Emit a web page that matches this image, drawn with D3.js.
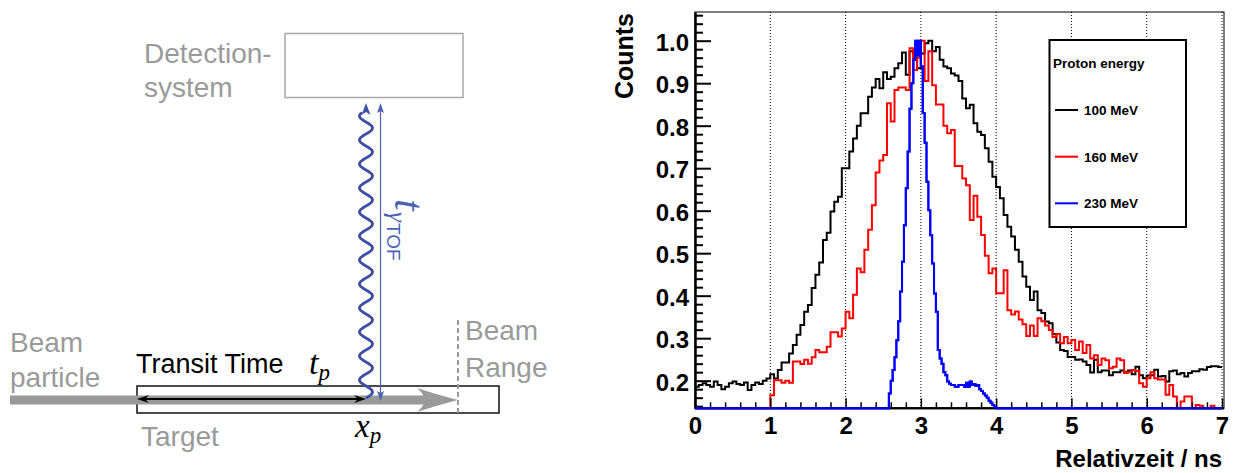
<!DOCTYPE html>
<html><head><meta charset="utf-8">
<script src="https://cdn.jsdelivr.net/npm/d3@7"></script>
<style>html,body{margin:0;padding:0;background:#fff}svg{display:block}</style>
</head><body>
<svg id="c" width="1236" height="473"></svg>
<script>
// ---------- data ----------
const timeTicks = [0, 1, 2, 3, 4, 5, 6, 7];
const countTicks = [0.2, 0.3, 0.4, 0.5, 0.6, 0.7, 0.8, 0.9, 1.0];
const energies = ["100 MeV", "160 MeV", "230 MeV"];
const seriesColors = ["#000000", "#ff0000", "#0000ff"];

const binWidth = 0.05;
const start100 = 0;
const counts100 = [
  0.186,0.19,0.194,0.19,0.186,0.198,0.19,0.18,0.186,0.194,0.198,0.192,0.19,0.196,0.178,0.19,0.196,0.192,0.2,0.205,
  0.215,0.205,0.225,0.243,0.243,0.264,0.284,
  0.308,0.331,0.362,0.378,0.418,0.449,0.478,0.531,0.548,0.598,0.621,0.633,0.70,0.70,
  0.739,0.77,0.80,0.829,0.829,0.868,0.89,0.91,0.888,0.926,0.91,0.915,0.935,0.947,0.972,0.92,0.975,0.96,0.935,0.97,0.994,
  1.0,0.975,0.985,0.955,0.939,0.935,0.923,0.918,0.905,0.864,0.841,0.849,0.806,0.786,0.778,0.747,0.715,0.68,0.656,0.629,
  0.59,0.562,0.539,0.508,0.48,0.445,0.421,0.39,0.41,0.366,0.359,0.339,0.335,0.31,0.29,
  0.272,0.27,0.256,0.256,0.249,0.25,0.245,0.237,0.219,0.249,0.22,0.224,0.224,0.213,0.22,0.22,0.224,0.22,0.224,0.215,
  0.233,0.213,0.206,0.212,0.213,0.226,0.21,0.211,0.198,0.222,0.224,0.215,0.218,0.21,0.218,0.222,0.222,0.227,0.226,0.232,
  0.234,0.234,0.232
];
const start160 = 1.0;
const counts160 = [
  0.166,0.201,0.201,0.195,0.20,0.195,0.245,0.245,0.239,0.249,0.24,0.255,0.272,0.267,0.267,0.28,0.314,0.314,0.304,0.323,
  0.362,0.347,0.402,0.464,0.455,0.508,0.555,0.613,0.69,0.718,0.731,
  0.853,0.81,0.884,0.89,0.89,0.884,0.982,0.931,0.96,1.0,0.905,0.975,0.895,0.85,0.85,0.80,0.782,0.79,0.705,0.705,
  0.676,0.66,0.578,0.635,0.586,0.543,0.494,0.453,0.464,0.406,0.406,0.46,0.366,0.356,0.363,0.344,0.333,0.305,0.33,0.305,
  0.347,0.34,0.33,0.319,0.303,0.31,
  0.288,0.303,0.288,0.296,0.272,0.292,0.265,0.284,0.252,0.26,0.237,0.252,0.248,0.229,0.233,0.252,0.248,0.218,0.221,0.225,
  0.223,0.194,0.186,0.206,0.22,0.206,0.203,0.203,0.167,0.19,0.163,0.12,0.151,0.163,0.163,0.12,0.143,0.141,0.12,0.12,
  0.141,0.12,0.12
];
const binWidth230 = 0.025;
const start230 = 2.575;
const counts230 = [
  0.17,0.20,0.225,0.255,0.295,0.34,0.41,0.48,0.566,0.653,0.739,0.84,0.90,0.955,1.0,0.965,1.0,0.94,0.83,0.76,
  0.668,0.601,0.542,0.476,0.405,0.362,0.272,0.252,0.24,0.22,0.213,0.198,0.193,0.19,0.19,0.186,0.186,0.19,0.19,0.19,
  0.186,0.195,0.185,0.198,0.19,0.192,0.188,0.19,0.18,0.176,0.17,0.165,0.16,0.153,0.148,0.143,0.138
];

// ---------- setup ----------
const svg = d3.select("#c");
svg.append("rect").attr("width", 1236).attr("height", 473).attr("fill", "#fff");
const SANS = "'Liberation Sans', Arial, Helvetica, sans-serif";
const SERIF = "'Liberation Serif', 'Times New Roman', serif";

// ================= LEFT DIAGRAM =================
const grey = "#9a9a9a";
const blueD = "#3d50a3";
const L = svg.append("g");

// detection system box + label
L.append("rect").attr("x", 285).attr("y", 33.5).attr("width", 178).attr("height", 64)
  .attr("fill", "none").attr("stroke", "#a8a8a8").attr("stroke-width", 1.5);
L.append("text").attr("x", 144).attr("y", 63).attr("font-family", SANS).attr("font-size", 28)
  .attr("fill", grey).text("Detection-");
L.append("text").attr("x", 144).attr("y", 97).attr("font-family", SANS).attr("font-size", 28)
  .attr("fill", grey).text("system");

// target rectangle
L.append("rect").attr("x", 137).attr("y", 386).attr("width", 362).attr("height", 27)
  .attr("fill", "none").attr("stroke", "#111").attr("stroke-width", 1.5);

// beam (grey thick arrow)
L.append("line").attr("x1", 10).attr("x2", 425).attr("y1", 400).attr("y2", 400)
  .attr("stroke", grey).attr("stroke-width", 9);
L.append("path").attr("d", "M458,400 Q435,394 417,388 Q424,394 425,400 Q424,406 417,412 Q435,406 458,400 Z")
  .attr("fill", grey);

// beam range dashed line
L.append("line").attr("x1", 458).attr("x2", 458).attr("y1", 320).attr("y2", 413)
  .attr("stroke", grey).attr("stroke-width", 2).attr("stroke-dasharray", "5,3");

// transit time double arrow
L.append("line").attr("x1", 142).attr("x2", 361).attr("y1", 399).attr("y2", 399)
  .attr("stroke", "#000").attr("stroke-width", 2);
L.append("path").attr("d", "M137,399 L149,395 L145,399 L149,403 Z").attr("fill", "#000");
L.append("path").attr("d", "M366,399 L354,395 L358,399 L354,403 Z").attr("fill", "#000");

// wavy photon line
const waveY = d3.range(398, 112, -0.5);
const wave = d3.line().x(d => 366 + 6.5 * Math.sin((398 - d) / 24 * 2 * Math.PI)).y(d => d);
L.append("path").attr("d", wave(waveY)).attr("fill", "none").attr("stroke", blueD).attr("stroke-width", 2.8);
L.append("path").attr("d", "M366,103 L361.5,115 L366,112 L370.5,115 Z").attr("fill", blueD);

// thin time-of-flight arrow
L.append("line").attr("x1", 380.5).attr("x2", 380.5).attr("y1", 108).attr("y2", 396)
  .attr("stroke", "#4a62b4").attr("stroke-width", 1.2);
L.append("path").attr("d", "M380.5,103 L377,113 L380.5,111 L384,113 Z").attr("fill", "#4a62b4");
L.append("path").attr("d", "M380.5,401 L377,391 L380.5,393 L384,391 Z").attr("fill", "#4a62b4");

// t_gamma TOF label (rotated)
const tl = L.append("text").attr("transform", "translate(395,199) rotate(90)")
  .attr("fill", "#4a62b4");
tl.append("tspan").attr("font-family", SERIF).attr("font-style", "italic").attr("font-size", 42).text("t");
tl.append("tspan").attr("font-family", SERIF).attr("font-style", "italic").attr("font-size", 26)
  .attr("dy", 6).attr("dx", 1).text("γ");
tl.append("tspan").attr("font-family", SANS).attr("font-size", 19).attr("dy", 2).attr("dx", 1).text("TOF");

// labels
L.append("text").attr("x", 10).attr("y", 352).attr("font-family", SANS).attr("font-size", 28).attr("fill", grey).text("Beam");
L.append("text").attr("x", 10).attr("y", 387).attr("font-family", SANS).attr("font-size", 28).attr("fill", grey).text("particle");
L.append("text").attr("x", 465).attr("y", 340).attr("font-family", SANS).attr("font-size", 28).attr("fill", grey).text("Beam");
L.append("text").attr("x", 465).attr("y", 377).attr("font-family", SANS).attr("font-size", 28).attr("fill", grey).text("Range");
L.append("text").attr("x", 141).attr("y", 446).attr("font-family", SANS).attr("font-size", 28).attr("fill", grey).text("Target");
L.append("text").attr("x", 136).attr("y", 373).attr("font-family", SANS).attr("font-size", 27).attr("fill", "#000").text("Transit Time");
const tp = L.append("text").attr("x", 309).attr("y", 374).attr("fill", "#000").attr("font-family", SERIF).attr("font-style", "italic");
tp.append("tspan").attr("font-size", 34).text("t");
tp.append("tspan").attr("font-size", 23).attr("dy", 6).text("p");
const xp = L.append("text").attr("x", 355).attr("y", 437).attr("fill", "#000").attr("font-family", SERIF).attr("font-style", "italic");
xp.append("tspan").attr("font-size", 33).text("x");
xp.append("tspan").attr("font-size", 23).attr("dy", 6).text("p");

// ================= RIGHT CHART =================
const X0 = 695, X7 = 1222, XR = 1224, YT = 12, YB = 408.3;
const yMin = 0.135, yMax = 1.0675;
const x = d3.scaleLinear().domain([0, 7]).range([X0, X7]);
const y = d3.scaleLinear().domain([yMin, yMax]).range([YB, YT]);
const C = svg.append("g");

// vertical dotted grid
C.selectAll("line.grid").data(timeTicks.filter(t => t > 0)).enter().append("line")
  .attr("class", "grid").attr("x1", d => x(d)).attr("x2", d => x(d)).attr("y1", YT).attr("y2", YB)
  .attr("stroke", "#000").attr("stroke-width", 1).attr("stroke-dasharray", "1,2");

// frame (top/right)
C.append("rect").attr("x", X0).attr("y", YT).attr("width", XR - X0).attr("height", YB - YT)
  .attr("fill", "none").attr("stroke", "#000").attr("stroke-width", 1);

// histograms
const clampV = v => Math.max(yMin, Math.min(yMax, v));
function stepPts(start, w, vals) {
  const pts = [];
  if (start > 0) pts.push([0, yMin]);
  vals.forEach((v, i) => pts.push([start + i * w, clampV(v)]));
  const end = start + vals.length * w;
  if (end < 7 - 1e-9) pts.push([end, yMin]);
  pts.push([7, pts[pts.length - 1][1]]);
  return pts;
}
const step = d3.line().curve(d3.curveStepAfter).x(d => x(d[0])).y(d => y(d[1]));
const series = [
  stepPts(start100, binWidth, counts100),
  stepPts(start160, binWidth, counts160),
  stepPts(start230, binWidth230, counts230)
];
C.selectAll("path.hist").data(series).enter().append("path").attr("class", "hist")
  .attr("d", step).attr("fill", "none").attr("stroke", (d, i) => seriesColors[i])
  .attr("stroke-width", 2).attr("stroke-linejoin", "miter");

// axes
const yMinor = d3.range(0.14, 1.065, 0.02).filter(v => !countTicks.some(m => Math.abs(m - v) < 1e-6));
const gy = C.append("g").attr("transform", `translate(${X0},0)`);
gy.call(d3.axisLeft(y).tickValues(yMinor).tickSize(-8).tickSizeOuter(0).tickFormat(""));
gy.call(g => g.selectAll(".tick line").attr("stroke-width", 2));
const gy2 = C.append("g").attr("transform", `translate(${X0},0)`);
gy2.call(d3.axisLeft(y).tickValues(countTicks).tickSize(-16).tickSizeOuter(0).tickPadding(6).tickFormat(d3.format(".1f")));
gy2.selectAll(".tick line").attr("stroke-width", 2);
gy2.selectAll(".tick text").attr("font-family", SANS).attr("font-weight", "bold").attr("font-size", 24).attr("dy", "0.4em");
[gy, gy2].forEach(g => g.select(".domain").attr("stroke-width", 2));

const xMinor = d3.range(0.2, 7, 0.2).filter(v => Math.abs(v - Math.round(v)) > 1e-6);
const gx = C.append("g").attr("transform", `translate(0,${YB})`);
gx.call(d3.axisBottom(x).tickValues(xMinor).tickSize(-6).tickSizeOuter(0).tickFormat(""));
gx.selectAll(".tick line").attr("stroke-width", 1.5);
const gx2 = C.append("g").attr("transform", `translate(0,${YB})`);
gx2.call(d3.axisBottom(x).tickValues(timeTicks).tickSize(-10).tickSizeOuter(0).tickPadding(8.5).tickFormat(d3.format("d")));
gx2.selectAll(".tick line").attr("stroke-width", 1.5);
gx2.selectAll(".tick text").attr("font-family", SANS).attr("font-weight", "bold").attr("font-size", 24);
[gx, gx2].forEach(g => g.select(".domain").attr("stroke-width", 2).attr("d", `M${X0},0H${XR}`));

// blue histogram again above the axis line so the baseline shows blue
C.append("path").datum(series[2]).attr("d", step).attr("fill", "none").attr("stroke", seriesColors[2]).attr("stroke-width", 2);

// titles
C.append("text").attr("transform", `translate(633,13) rotate(-90)`).attr("text-anchor", "end")
  .attr("font-family", SANS).attr("font-weight", "bold").attr("font-size", 25).text("Counts");
C.append("text").attr("x", 1222).attr("y", 467).attr("text-anchor", "end")
  .attr("font-family", SANS).attr("font-weight", "bold").attr("font-size", 24).text("Relativzeit / ns");

// legend
const lg = C.append("g");
lg.append("rect").attr("x", 1049.5).attr("y", 40).attr("width", 136.5).attr("height", 187)
  .attr("fill", "#fff").attr("stroke", "#000").attr("stroke-width", 2);
lg.append("text").attr("x", 1053).attr("y", 68).attr("font-family", SANS).attr("font-weight", "bold")
  .attr("font-size", 13.5).text("Proton energy");
const legY = [110, 156.7, 203.3];
const le = lg.selectAll("g.le").data(energies).enter().append("g").attr("class", "le")
  .attr("transform", (d, i) => `translate(0,${legY[i]})`);
le.append("line").attr("x1", 1055).attr("x2", 1078).attr("stroke", (d, i) => seriesColors[i]).attr("stroke-width", 2);
le.append("text").attr("x", 1084).attr("y", 5).attr("font-family", SANS).attr("font-weight", "bold")
  .attr("font-size", 13.5).text(d => d);
</script>
</body></html>
